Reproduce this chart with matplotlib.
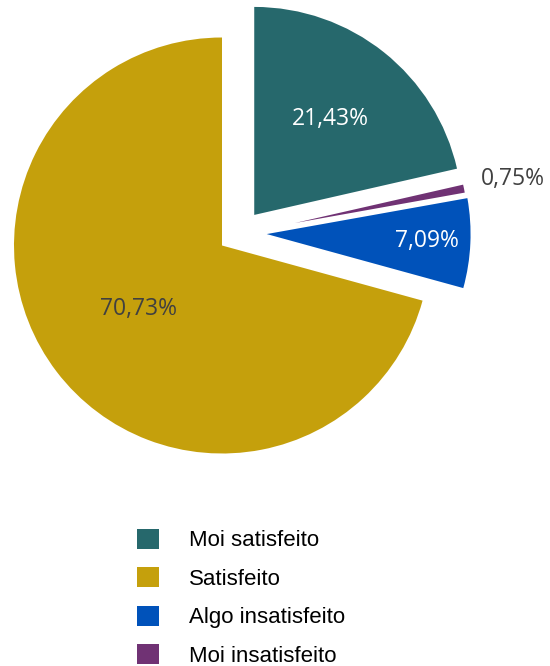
# Pie chart of satisfaction levels (exploded wedges, legend below)

import matplotlib.pyplot as plt
from matplotlib.patches import Patch
import numpy as np

# Data (legend order)
categorias = ["Moi satisfeito", "Satisfeito", "Algo insatisfeito", "Moi insatisfeito"]
porcentaxes = [21.43, 70.73, 7.09, 0.75]
cores = ["#26686C", "#C5A00C", "#0052BA", "#703274"]

# order in which the slices go round the pie (clockwise from 12 o'clock)
orde_pie = [0, 3, 2, 1]

# wedge offsets (in radius units), radii and label distances, per category
desprazamentos = [(0.155, 0.147), (0.0, 0.0), (0.215, 0.055), (0.35, 0.108)]
radios = [1.0, 1.0, 0.98, 0.83]
dist_etiqueta = [0.59, 0.505, 0.77, 1.07]
cor_etiqueta = ["white", "#404040", "white", "#404040"]

W, H = 550, 666
fig = plt.figure(figsize=(W / 100, H / 100), dpi=100)
ax = fig.add_axes([0, 0, 1, 1])

R = 208  # pixels per radius unit
cx, cy = 222, 245.5

valores = [porcentaxes[i] for i in orde_pie]
wedges, _ = ax.pie(valores, colors=[cores[i] for i in orde_pie],
                   startangle=90, counterclock=False, radius=1.0,
                   wedgeprops=dict(linewidth=0))

for w, i in zip(wedges, orde_pie):
    dx, dy = desprazamentos[i]
    w.set_center((dx, dy))
    w.set_radius(radios[i])
    ang = np.deg2rad((w.theta1 + w.theta2) / 2)
    d = dist_etiqueta[i]
    txt = f"{porcentaxes[i]:.2f}".replace(".", ",") + "%"
    ax.text(dx + d * np.cos(ang), dy + d * np.sin(ang), txt,
            ha="center", va="center", fontsize=16.5, family="Open Sans",
            color=cor_etiqueta[i])

ax.set_xlim(-cx / R, (W - cx) / R)
ax.set_ylim(-(H - cy) / R, cy / R)
ax.set_aspect("auto")
ax.axis("off")

handles = [Patch(facecolor=c, edgecolor="none") for c in cores]
fig.legend(handles, categorias, loc="upper left",
           bbox_to_anchor=(137 / W, 1 - 529 / H), frameon=False,
           prop=dict(family="Liberation Sans", size=16),
           handlelength=0.99, handleheight=0.99, handletextpad=1.35,
           labelspacing=0.72, borderpad=0, borderaxespad=0)

fig.savefig("out.png", dpi=100)
